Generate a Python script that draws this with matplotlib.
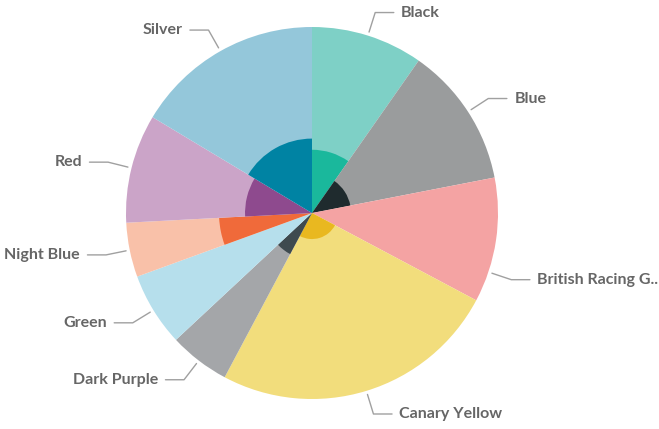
import numpy as np
import matplotlib.pyplot as plt
from matplotlib.patches import Wedge

# datos (aster plot)
categories = ["Black", "Blue", "British Racing G..", "Canary Yellow", "Dark Purple",
              "Green", "Night Blue", "Red", "Silver"]
values = [35, 44, 39, 90, 19, 23, 17, 34, 59]          # ancho de cada porcion
inner = [0.34, 0.21, 0.0, 0.14, 0.25, 0.0, 0.50, 0.36, 0.40]  # radio interior

outer_colors = ["#7ed0c6", "#9a9c9d", "#f4a3a3", "#f2dd7c", "#a4a6a9",
                "#b6dfec", "#f9c1a9", "#cba4c8", "#94c7da"]
inner_colors = ["#1ab89c", "#1f2b2e", "#fd625e", "#e9b820", "#3e4a4f",
                "#8ad4eb", "#f06a3a", "#8e4a8e", "#0083a3"]

# pequeno ajuste de posicion de etiquetas (grados)
label_nudge = [0, 0, 10, 0, 0, 0, 0, 0, 0]

fig = plt.figure(figsize=(6.59, 4.29), dpi=100)
ax = fig.add_axes([0, 0, 1, 1])
R = 186.0
ax.set_xlim(-312 / R, (659 - 312) / R)
ax.set_ylim(-216 / R, (429 - 216) / R)
ax.set_aspect("equal")
ax.axis("off")

total = float(sum(values))
start = 0.0
for i, cat in enumerate(categories):
    span = values[i] / total * 360.0
    # angulos en sentido horario desde arriba -> convertir a matplotlib
    t1 = 90 - start - span
    t2 = 90 - start
    ax.add_patch(Wedge((0, 0), 1.0, t1, t2, facecolor=outer_colors[i], edgecolor="none"))
    if inner[i] > 0:
        ax.add_patch(Wedge((0, 0), inner[i], t1, t2, facecolor=inner_colors[i], edgecolor="none"))

    mid = np.deg2rad(start + span / 2 + label_nudge[i])
    sx, sy = 1.02 * np.sin(mid), 1.02 * np.cos(mid)
    ex, ey = 1.13 * np.sin(mid), 1.13 * np.cos(mid)
    side = 1 if np.sin(mid) >= 0 else -1
    hx = ex + side * 0.1
    ax.plot([sx, ex, hx], [sy, ey, ey], color="#a0a0a0", lw=1.0, solid_capstyle="round")
    ax.text(hx + side * 0.04, ey, cat, ha="left" if side > 0 else "right", va="center",
            fontsize=11.5, fontweight="bold", color="#666666", family="Lato")
    start += span

fig.savefig("out.png", dpi=100)
